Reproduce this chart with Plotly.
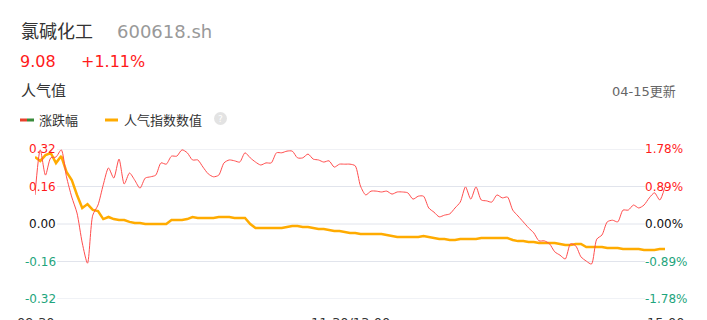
import plotly.graph_objects as go

# ---- data ----
minutes = list(range(0, 241, 2))  # minutes since 09:30 (trading time)

change_pct = [0.69, 1.76, 1.16, 1.57, 1.59, 1.76, 1.12, 0.64, 0.26, -0.45,
              -0.93, 0.21, 0.45, 0.93, 1.33, 1.09, 1.54, 0.95, 1.21, 1.04,
              0.85, 1.09, 1.12, 1.16, 1.45, 1.42, 1.61, 1.61, 1.76, 1.69,
              1.52, 1.52, 1.35, 1.19, 1.12, 1.16, 1.45, 1.52, 1.50, 1.47,
              1.69, 1.57, 1.47, 1.40, 1.45, 1.45, 1.69, 1.69, 1.73, 1.73,
              1.57, 1.57, 1.66, 1.54, 1.52, 1.47, 1.50, 1.35, 1.42, 1.42,
              1.42, 1.38, 0.90, 0.69, 0.78, 0.78, 0.76, 0.78, 0.71, 0.76,
              0.76, 0.74, 0.59, 0.66, 0.66, 0.38, 0.28, 0.17, 0.21, 0.24,
              0.38, 0.52, 0.88, 0.59, 0.88, 0.57, 0.55, 0.52, 0.69, 0.62,
              0.64, 0.33, 0.19, 0.05, -0.09, -0.21, -0.40, -0.40, -0.47, -0.66,
              -0.74, -0.83, -0.47, -0.52, -0.78, -0.88, -0.95, -0.36, -0.26, 0.05,
              0.09, 0.05, 0.33, 0.33, 0.45, 0.38, 0.45, 0.62, 0.74, 0.57,
              0.88]

popularity = [0.286, 0.269, 0.294, 0.303, 0.260, 0.290, 0.222, 0.188, 0.124, 0.068,
              0.085, 0.060, 0.055, 0.021, 0.030, 0.021, 0.017, 0.017, 0.009, 0.004,
              0.004, 0.000, 0.000, 0.000, 0.000, 0.000, 0.017, 0.017, 0.017, 0.021,
              0.030, 0.026, 0.026, 0.026, 0.026, 0.030, 0.030, 0.030, 0.026, 0.026,
              0.026, 0.000, -0.017, -0.017, -0.017, -0.017, -0.017, -0.017, -0.013, -0.009,
              -0.009, -0.013, -0.013, -0.017, -0.021, -0.021, -0.026, -0.030, -0.030, -0.034,
              -0.038, -0.038, -0.043, -0.043, -0.043, -0.043, -0.043, -0.047, -0.051, -0.055,
              -0.055, -0.055, -0.055, -0.055, -0.051, -0.055, -0.060, -0.064, -0.064, -0.068,
              -0.068, -0.064, -0.064, -0.064, -0.064, -0.060, -0.060, -0.060, -0.060, -0.060,
              -0.060, -0.068, -0.073, -0.073, -0.077, -0.077, -0.081, -0.081, -0.081, -0.081,
              -0.085, -0.090, -0.090, -0.085, -0.085, -0.098, -0.098, -0.098, -0.098, -0.102,
              -0.102, -0.102, -0.107, -0.107, -0.107, -0.107, -0.111, -0.111, -0.111, -0.107,
              -0.107]

left_ticks = [0.32, 0.16, 0.00, -0.16, -0.32]
left_labels = ["0.32", "0.16", "0.00", "-0.16", "-0.32"]
right_ticks = [1.78, 0.89, 0.00, -0.89, -1.78]
right_labels = ["1.78%", "0.89%", "0.00%", "-0.89%", "-1.78%"]
x_tick_labels = ["09:30", "11:30/13:00", "15:00"]
x_tick_pos = [0, 120, 240]

name = "氯碱化工"
code = "600618.sh"
price = "9.08"
pct = "+1.11%"

# ---- styling ----
W, H = 707, 320
L, R, T, B = 35, 665, 149, 299
RED = "#ff1a1a"
LINE_RED = "#ff4d4d"
GREEN = "#1fa57d"
ORANGE = "#ffab00"
FONT = "DejaVu Sans, Noto Sans CJK SC"

def px(x):
    return (x - L) / (R - L)

def py(y):
    return (B - y) / (B - T)

fig = go.Figure()
fig.add_trace(go.Scatter(x=minutes, y=change_pct, yaxis="y2", mode="lines",
                         line=dict(color=LINE_RED, width=1, shape="spline", smoothing=0.7),
                         hoverinfo="skip"))
fig.add_trace(go.Scatter(x=minutes, y=popularity, yaxis="y", mode="lines",
                         line=dict(color=ORANGE, width=2.5), hoverinfo="skip"))

shapes = []
for t in left_ticks:
    shapes.append(dict(type="line", xref="paper", yref="y", x0=px(57), x1=px(645),
                       y0=t, y1=t, line=dict(color="#e1e4ec", width=1), layer="below"))
# legend icons
shapes.append(dict(type="line", xref="paper", yref="paper", x0=px(20), x1=px(27),
                   y0=py(120), y1=py(120), line=dict(color="#e8412c", width=3)))
shapes.append(dict(type="line", xref="paper", yref="paper", x0=px(27), x1=px(34),
                   y0=py(120), y1=py(120), line=dict(color="#3a8a3a", width=3)))
shapes.append(dict(type="line", xref="paper", yref="paper", x0=px(105), x1=px(118),
                   y0=py(120), y1=py(120), line=dict(color=ORANGE, width=3)))
shapes.append(dict(type="circle", xref="paper", yref="paper", x0=px(214), x1=px(227),
                   y0=py(112), y1=py(125), fillcolor="#e3e3e3", line=dict(width=0)))

ann = []
def txt(x, y, s, size, color, anchor="left", yref="paper"):
    ann.append(dict(x=px(x), y=py(y) if yref == "paper" else y, xref="paper", yref=yref,
                    text=s, showarrow=False, xanchor=anchor, yanchor="middle",
                    font=dict(family=FONT, size=size, color=color)))

txt(19, 31, name, 18, "#333333")
txt(115, 31, code, 18, "#999999")
txt(18, 62, price, 16, RED)
txt(79, 62, pct, 16, RED)
txt(19, 91, "人气值", 15, "#333333")
txt(678, 91, "04-15更新", 13, "#666666", anchor="right")
txt(37, 120, "涨跌幅", 13, "#333333")
txt(122, 120, "人气指数数值", 13, "#333333")
txt(220.5, 118.5, "?", 9, "#ffffff", anchor="center")

left_colors = [RED, RED, "#111111", GREEN, GREEN]
for t, s, c in zip(left_ticks, left_labels, left_colors):
    ann.append(dict(x=px(58), y=t, xref="paper", yref="y", text=s, showarrow=False,
                    xanchor="right", yanchor="middle",
                    font=dict(family=FONT, size=12, color=c)))
for t, s, c in zip(right_ticks, right_labels, left_colors):
    ann.append(dict(x=px(643), y=t, xref="paper", yref="y2", text=s, showarrow=False,
                    xanchor="left", yanchor="middle",
                    font=dict(family=FONT, size=12, color=c)))
for xp, s in zip(x_tick_pos, x_tick_labels):
    ann.append(dict(x=xp, y=py(322), xref="x", yref="paper", text=s, showarrow=False,
                    xanchor="center", yanchor="middle",
                    font=dict(family=FONT, size=13, color="#333333")))

fig.update_layout(
    width=W, height=H,
    margin=dict(l=L, r=W - R, t=T, b=H - B),
    paper_bgcolor="white", plot_bgcolor="white",
    showlegend=False,
    xaxis=dict(range=[0, 240], showgrid=False, zeroline=False, showticklabels=False,
               showline=False, fixedrange=True),
    yaxis=dict(range=[-0.32, 0.32], showgrid=False, zeroline=False, showticklabels=False,
               fixedrange=True),
    yaxis2=dict(range=[-1.78, 1.78], overlaying="y", side="right", showgrid=False,
                zeroline=False, showticklabels=False, fixedrange=True),
    shapes=shapes, annotations=ann,
)

fig.write_html("out.html", config={"displayModeBar": False})
